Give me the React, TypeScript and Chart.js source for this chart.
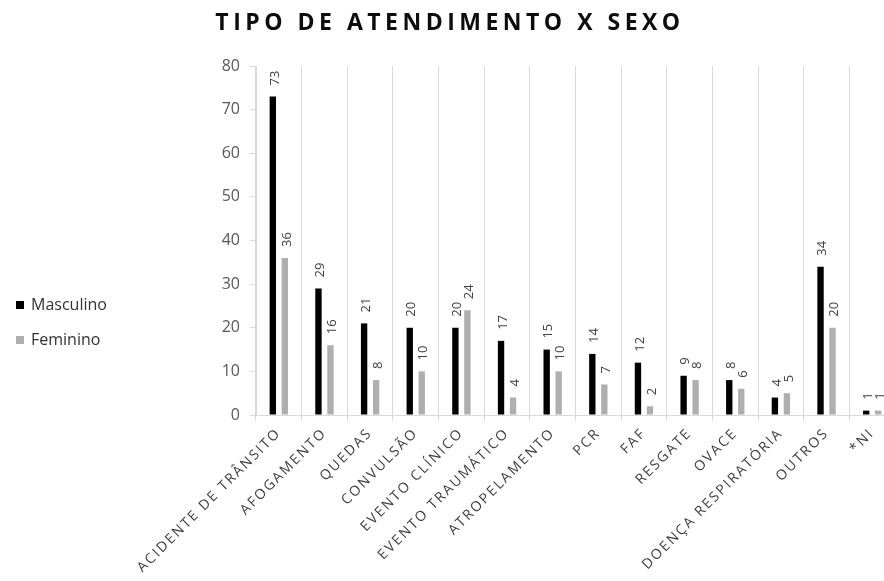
import React, { useEffect, useRef } from 'react';
import { Chart, registerables } from 'chart.js';

Chart.register(...registerables);

const TITLE = 'TIPO DE ATENDIMENTO X SEXO';
const categories = [
  'ACIDENTE DE TRÂNSITO',
  'AFOGAMENTO',
  'QUEDAS',
  'CONVULSÃO',
  'EVENTO CLÍNICO',
  'EVENTO TRAUMÁTICO',
  'ATROPELAMENTO',
  'PCR',
  'FAF',
  'RESGATE',
  'OVACE',
  'DOENÇA RESPIRATÓRIA',
  'OUTROS',
  '*NI',
];
const masculino = [73, 29, 21, 20, 20, 17, 15, 14, 12, 9, 8, 4, 34, 1];
const feminino = [36, 16, 8, 10, 24, 4, 10, 7, 2, 8, 6, 5, 20, 1];
const seriesLabels = ['Masculino', 'Feminino'];
const seriesColors = ['#000000', '#afafaf'];
const yMin = 0;
const yMax = 80;
const yStep = 10;

const FONT = "'Open Sans', sans-serif";

export default function App() {
  const ref = useRef<HTMLCanvasElement>(null);

  useEffect(() => {
    document.documentElement.style.overflow = 'hidden';
    document.body.style.overflow = 'hidden';
    const canvas = ref.current;
    if (!canvas) return;

    const spacingPlugin = {
      id: 'spacing',
      beforeDraw(chart: any) {
        (chart.ctx as any).letterSpacing = '2px';
      },
      afterDatasetsDraw(chart: any) {
        const c = chart.ctx as any;
        c.letterSpacing = '0px';
        c.save();
        c.font = `13px ${FONT}`;
        c.fillStyle = '#404040';
        c.textAlign = 'left';
        c.textBaseline = 'middle';
        chart.data.datasets.forEach((ds: any, di: number) => {
          const meta = chart.getDatasetMeta(di);
          meta.data.forEach((bar: any, i: number) => {
            c.save();
            c.translate(bar.x + 2, bar.y - 11);
            c.rotate(-Math.PI / 2);
            c.fillText(String(ds.data[i]), 0, 0);
            c.restore();
          });
        });
        c.restore();
      },
      afterDraw(chart: any) {
        const c = chart.ctx as any;
        c.save();
        // title
        c.letterSpacing = '4.5px';
        c.font = `bold 23px ${FONT}`;
        c.fillStyle = '#0d0d0d';
        c.textAlign = 'center';
        c.textBaseline = 'alphabetic';
        c.fillText(TITLE, 450, 30);
        // legend
        c.letterSpacing = '0px';
        c.font = `16px ${FONT}`;
        c.textAlign = 'left';
        c.textBaseline = 'middle';
        chart.data.datasets.forEach((ds: any, di: number) => {
          const cy = 305 + di * 35;
          c.fillStyle = ds.backgroundColor;
          c.fillRect(16, cy - 4, 8, 8);
          c.fillStyle = '#333333';
          c.fillText(ds.label, 31, cy);
        });
        c.restore();
      },
    };

    const chart = new Chart(canvas, {
      type: 'bar',
      data: {
        labels: categories,
        datasets: [
          {
            label: seriesLabels[0],
            data: masculino,
            backgroundColor: seriesColors[0],
            categoryPercentage: 0.526,
            barPercentage: 0.53,
          },
          {
            label: seriesLabels[1],
            data: feminino,
            backgroundColor: seriesColors[1],
            categoryPercentage: 0.526,
            barPercentage: 0.53,
          },
        ],
      },
      options: {
        animation: false,
        responsive: true,
        maintainAspectRatio: false,
        layout: { padding: { left: 200, top: 66, right: 5, bottom: 0 } },
        plugins: {
          legend: { display: false },
          title: { display: false },
          tooltip: { enabled: false },
        },
        scales: {
          x: {
            grid: { color: '#d9d9d9', lineWidth: 1, drawTicks: true, tickLength: 6, offset: true },
            border: { color: '#d9d9d9' },
            ticks: {
              autoSkip: false,
              maxRotation: 45,
              minRotation: 45,
              font: { family: FONT, size: 14 },
              color: '#404040',
              padding: 4,
            },
            afterFit: (s: any) => {
              s.height = 166;
            },
          },
          y: {
            min: yMin,
            max: yMax,
            ticks: {
              stepSize: yStep,
              font: { family: FONT, size: 16 },
              color: '#595959',
              padding: 10,
              z: 1,
            },
            grid: { drawOnChartArea: false, drawTicks: true, tickLength: 6, color: '#d9d9d9' },
            border: { color: '#d9d9d9' },
            afterFit: (s: any) => {
              s.width = 56;
            },
          },
        },
      },
      plugins: [spacingPlugin],
    } as any);

    return () => {
      chart.destroy();
    };
  }, []);

  return (
    <div style={{ position: 'fixed', left: 0, top: 0, width: 900, height: 581, background: '#ffffff' }}>
      <canvas ref={ref} />
    </div>
  );
}
